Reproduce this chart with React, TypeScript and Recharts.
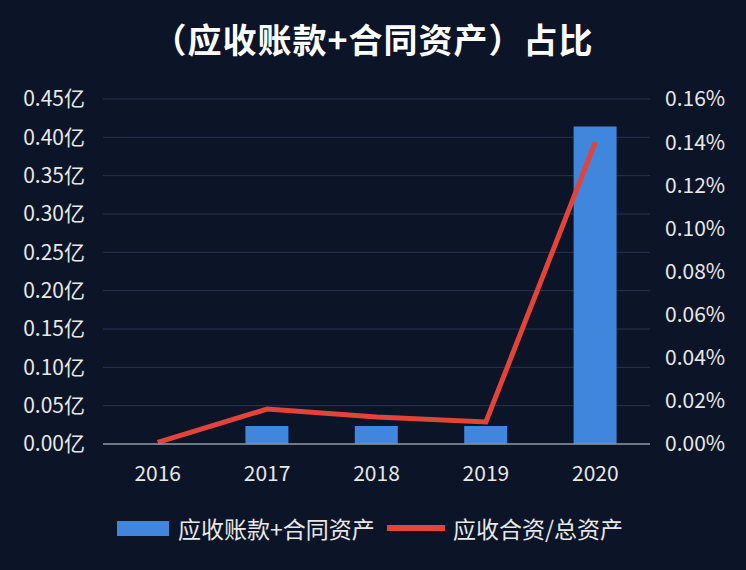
import React from 'react';
import { ComposedChart, Bar, Line, XAxis, YAxis, CartesianGrid, Legend } from 'recharts';

const years = ['2016', '2017', '2018', '2019', '2020'];
const receivablesContract = [0, 0.0235, 0.0235, 0.0235, 0.414];
const ratioToAssets = [0.0008, 0.0162, 0.0125, 0.0102, 0.14];
const leftTicks = [0, 0.05, 0.1, 0.15, 0.2, 0.25, 0.3, 0.35, 0.4, 0.45];
const rightTicks = [0, 0.02, 0.04, 0.06, 0.08, 0.1, 0.12, 0.14, 0.16];

const barName = '应收账款+合同资产';
const lineName = '应收合资/总资产';
const title = '（应收账款+合同资产）占比';

const data = years.map((y, i) => ({ year: y, bar: receivablesContract[i], line: ratioToAssets[i] }));

const FONT = '"Noto Sans CJK SC", "Noto Sans", sans-serif';
const BG = '#0c1427';
const BAR = '#3f86dc';
const LINE = '#e2443a';
const TXT = '#e8e8e8';

const renderLegend = () => (
  <div style={{ position: 'relative', width: 746, height: 40, fontFamily: FONT, color: TXT, fontSize: 23 }}>
    <div style={{ position: 'absolute', left: 117, top: 10, width: 52, height: 15, background: BAR }} />
    <span style={{ position: 'absolute', left: 178, top: 2, lineHeight: '30px', whiteSpace: 'nowrap' }}>{barName}</span>
    <div style={{ position: 'absolute', left: 387, top: 14, width: 58, height: 6, background: LINE }} />
    <span style={{ position: 'absolute', left: 453, top: 2, lineHeight: '30px', whiteSpace: 'nowrap' }}>{lineName}</span>
  </div>
);

export default function App() {
  return (
    <div style={{ position: 'absolute', left: 0, top: 0, width: 746, height: 570, background: BG, overflow: 'hidden' }}>
      <div
        style={{
          position: 'absolute',
          left: 0,
          top: 15,
          width: 746,
          textAlign: 'center',
          fontFamily: FONT,
          fontWeight: 700,
          fontSize: 34,
          color: '#ffffff',
          lineHeight: '48px',
          letterSpacing: 1,
        }}
      >
        {title}
      </div>
      <ComposedChart
        width={746}
        height={570}
        data={data}
        margin={{ top: 99, right: 0, bottom: 46, left: 0 }}
        barCategoryGap="30%"
      >
        <CartesianGrid yAxisId="left" vertical={false} stroke="#273250" strokeWidth={1} />
        <XAxis
          dataKey="year"
          axisLine={{ stroke: '#8d939e', strokeWidth: 1.5 }}
          tickLine={false}
          tickSize={0}
          tickMargin={22}
          height={40}
          tick={{ fill: TXT, fontSize: 21, fontFamily: FONT }}
          interval={0}
        />
        <YAxis
          yAxisId="left"
          orientation="left"
          width={103}
          domain={[0, 0.45]}
          ticks={leftTicks}
          axisLine={false}
          tickLine={false}
          tickSize={0}
          tickMargin={18}
          tickFormatter={(v: number) => v.toFixed(2) + '亿'}
          tick={{ fill: TXT, fontSize: 21, fontFamily: FONT }}
          interval={0}
        />
        <YAxis
          yAxisId="right"
          orientation="right"
          width={96}
          domain={[0, 0.16]}
          ticks={rightTicks}
          axisLine={false}
          tickLine={false}
          tickSize={0}
          tickMargin={15}
          tickFormatter={(v: number) => v.toFixed(2) + '%'}
          tick={{ fill: TXT, fontSize: 21, fontFamily: FONT, textAnchor: 'start' }}
          interval={0}
        />
        <Bar yAxisId="left" dataKey="bar" name={barName} fill={BAR} barSize={43} isAnimationActive={false} />
        <Line
          yAxisId="right"
          type="linear"
          dataKey="line"
          name={lineName}
          stroke={LINE}
          strokeWidth={5}
          dot={false}
          activeDot={false}
          isAnimationActive={false}
        />
        <Legend
          content={renderLegend}
          wrapperStyle={{ position: 'absolute', left: 0, top: 511, width: 746, height: 40 }}
        />
      </ComposedChart>
    </div>
  );
}
